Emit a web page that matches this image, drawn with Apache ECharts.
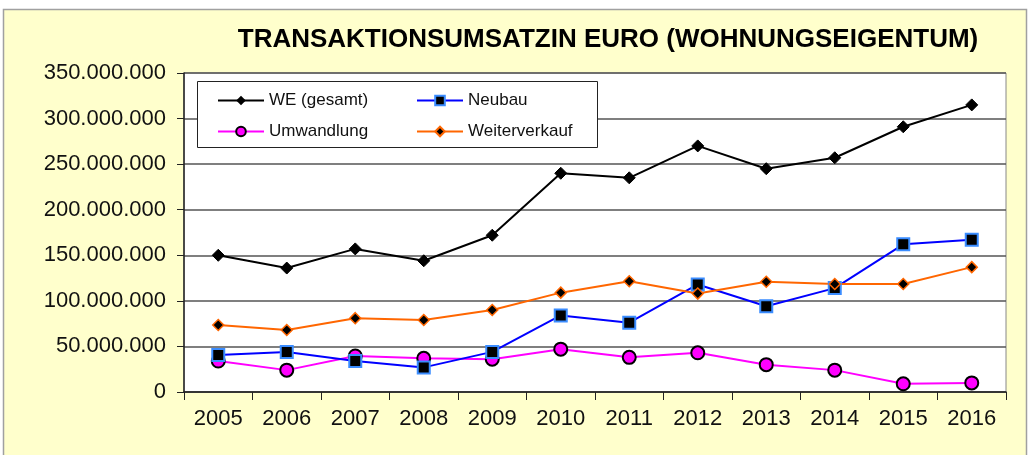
<!DOCTYPE html>
<html><head><meta charset="utf-8">
<script src="https://cdn.jsdelivr.net/npm/echarts@6/dist/echarts.min.js"></script>
<style>html,body{margin:0;padding:0;background:#fff}#c{width:1030px;height:455px}</style>
</head><body><div id="c"></div>
<script>
const years = ['2005','2006','2007','2008','2009','2010','2011','2012','2013','2014','2015','2016'];
const weGesamt = [150000000,136000000,157000000,144000000,172000000,240000000,235000000,270000000,245000000,257000000,291000000,315000000];
const neubau = [40500000,44000000,34000000,27000000,44000000,84000000,76000000,118000000,94000000,114000000,162000000,167000000];
const umwandlung = [34000000,24000000,39500000,37000000,36000000,47000000,38000000,43000000,30000000,24000000,9000000,10000000];
const weiterverkauf = [73500000,68000000,81000000,79000000,90000000,109000000,121500000,108000000,121000000,118500000,118500000,137000000];
const seriesNames = ['WE (gesamt)','Neubau','Umwandlung','Weiterverkauf'];
const titleText = 'TRANSAKTIONSUMSATZIN EURO (WOHNUNGSEIGENTUM)';

const fmt = v => String(v).replace(/\B(?=(\d{3})+(?!\d))/g, '.');
const chart = echarts.init(document.getElementById('c'));
const font = '"Liberation Sans", Arial, sans-serif';
chart.setOption({
  animation: false,
  backgroundColor: '#ffffff',
  textStyle: {fontFamily: font},
  graphic: [
    {type: 'rect', shape: {x: 3.5, y: 9.5, width: 1023, height: 450}, style: {fill: '#FFFFCC', stroke: '#a0a0a0', lineWidth: 1.5}, z: -10},
    {type: 'rect', shape: {x: 197.5, y: 81.5, width: 400, height: 66}, style: {fill: '#ffffff', stroke: '#222', lineWidth: 1}, z: 5}
  ],
  title: {
    text: titleText, left: 603, top: 22, textAlign: 'center',
    textStyle: {fontFamily: font, fontWeight: 'bold', fontSize: 26, color: '#000'}
  },
  legend: [
    {data: [seriesNames[0], seriesNames[2]], orient: 'vertical', left: 212, top: 87, itemGap: 14, itemWidth: 46, itemHeight: 12,
     textStyle: {fontFamily: font, fontSize: 17, color: '#111'}, z: 10},
    {data: [seriesNames[1], seriesNames[3]], orient: 'vertical', left: 411, top: 87, itemGap: 14, itemWidth: 46, itemHeight: 12,
     textStyle: {fontFamily: font, fontSize: 17, color: '#111'}, z: 10}
  ],
  grid: {left: 184, right: 24, top: 73, bottom: 63, show: true, backgroundColor: '#ffffff', borderColor: '#888', borderWidth: 1},
  xAxis: {
    type: 'category', data: years, boundaryGap: true,
    axisLine: {lineStyle: {color: '#222', width: 1.5}},
    axisTick: {show: true, length: 8, inside: false, lineStyle: {color: '#222'}},
    axisLabel: {fontSize: 22, color: '#111', margin: 16, fontFamily: font}
  },
  yAxis: {
    type: 'value', min: 0, max: 350000000, interval: 50000000,
    axisLine: {show: true, lineStyle: {color: '#222', width: 1.5}},
    axisTick: {show: true, length: 7, lineStyle: {color: '#222'}},
    axisLabel: {fontSize: 22, color: '#111', margin: 18, fontFamily: font, formatter: fmt},
    splitLine: {lineStyle: {color: '#555', width: 1.5}}
  },
  series: [
    {name: seriesNames[0], type: 'line', data: weGesamt, symbol: 'diamond', symbolSize: 12,
     lineStyle: {color: '#000', width: 2}, itemStyle: {color: '#000', borderColor: '#000'}, z: 4},
    {name: seriesNames[1], type: 'line', data: neubau, symbol: 'rect', symbolSize: 12,
     lineStyle: {color: '#0000FF', width: 2}, itemStyle: {color: '#000', borderColor: '#3a8cff', borderWidth: 2}, z: 3},
    {name: seriesNames[2], type: 'line', data: umwandlung, symbol: 'circle', symbolSize: 13,
     lineStyle: {color: '#FF00FF', width: 2}, itemStyle: {color: '#FF00FF', borderColor: '#000', borderWidth: 2}, z: 2},
    {name: seriesNames[3], type: 'line', data: weiterverkauf, symbol: 'diamond', symbolSize: 11,
     lineStyle: {color: '#FF6600', width: 2}, itemStyle: {color: '#000', borderColor: '#FF6600', borderWidth: 1.5}, z: 3}
  ]
});
</script></body></html>
